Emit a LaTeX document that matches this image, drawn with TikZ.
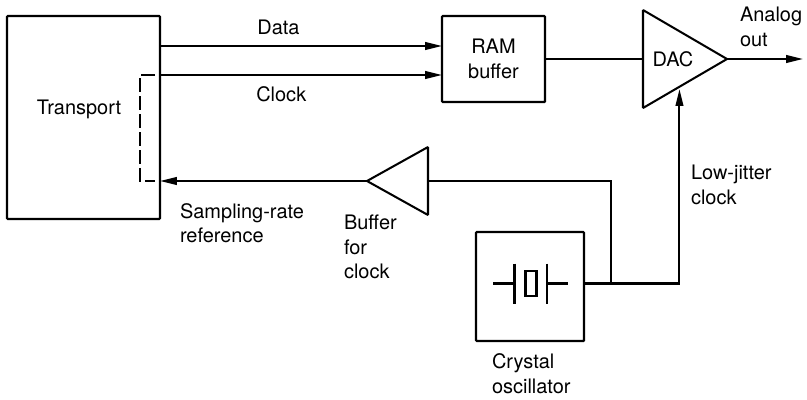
\documentclass[tikz,border=0pt]{standalone}
\usepackage{fontspec}
\setmainfont{TeX Gyre Heros}
\usetikzlibrary{positioning,arrows.meta,shapes.geometric,calc}

\begin{document}
\begin{tikzpicture}[
    font=\fontsize{14.2}{17.5}\selectfont,
    line width=1.45pt,
    box/.style={draw, rounded corners=0.5pt, align=center, inner sep=0pt, outer sep=0pt},
    transportbox/.style={box, minimum width=38.25mm, minimum height=50.75mm},
    rambox/.style={box, minimum width=25.75mm, minimum height=21.5mm},
    oscbox/.style={box, minimum width=27mm, minimum height=27.25mm},
    crystal/.style={draw, minimum width=2.75mm, minimum height=6.25mm, inner sep=0pt},
    amp/.style={draw, isosceles triangle, isosceles triangle stretches, inner sep=0pt,
                outer sep=0pt, rounded corners=0.5pt},
    lbl/.style={align=left, inner sep=0pt, anchor=west},
    arr/.style={-{Stealth[length=4.2mm, width=1.9mm, inset=0pt]}},
    refpath/.style={dash pattern=on 3.5mm off 1mm}
  ]
  \useasboundingbox (0,0) rectangle (201.75mm,-99.75mm);

  % ---- main blocks ----
  \node[transportbox, anchor=north west] (transport) at (1.75mm,-4mm) {};
  \node[anchor=center] (transportlbl) at ($(transport.center)+(-1.125mm,2.125mm)$) {Transport};
  \node[rambox, below right=0mm and 70.5mm of transport.north east] (ram) {RAM \\ buffer};
  \node[amp, minimum width=24.5mm, minimum height=21mm, right=24.5mm of ram] (dac) {};
  \node (daclbl) at ($(dac.west)+(7.5mm,0)$) {DAC};
  \coordinate (outend) at ($(dac.apex)+(19mm,0)$);
  \draw (ram.east) -- (dac.west);
  \draw[arr] (dac.apex) -- (outend);
  \node[lbl] (outlbl) at ($(dac.apex)+(3mm,8.1mm)$) {Analog \\ out};

  % ---- data and clock lines ----
  \coordinate (dataT) at ($(transport.north east)+(0,-7.5mm)$);
  \coordinate (clockT) at ($(transport.north east)+(0,-14.75mm)$);
  \draw[arr] (dataT) -- (dataT -| ram.west);
  \draw[arr] (clockT) -- (clockT -| ram.west);
  \node (datalbl) at ($(dataT)!0.42!(dataT -| ram.west)+(0,4.75mm)$) {Data};
  \node (clocklbl) at ($(clockT)!0.43!(clockT -| ram.west)+(0,-4.75mm)$) {Clock};

  % ---- crystal oscillator ----
  \node[oscbox, below right=54mm and 79mm of transport.north east] (osc) {};
  \node[crystal] (xtal) at ($(osc.center)+(0.25mm,0.75mm)$) {};
  \draw ($(xtal.west)+(-2.5mm,5mm)$) -- ($(xtal.west)+(-2.5mm,-5mm)$);
  \draw ($(xtal.east)+(2.25mm,5mm)$) -- ($(xtal.east)+(2.25mm,-5mm)$);
  \draw ($(xtal.west)+(-2.5mm,0)$) -- ++(-5.25mm,0);
  \draw ($(xtal.east)+(2.25mm,0)$) -- ++(5.25mm,0);
  \node[lbl, below=3mm of osc.south west, xshift=3.75mm, anchor=north west] (osclbl) {Crystal \\ oscillator};

  % ---- clock to the DAC ----
  \coordinate (jit) at ($(dac.right corner)!0.434!(dac.apex)$);
  \coordinate (oscout) at (osc.east |- xtal.center);
  \coordinate (tap) at ($(oscout)+(6.75mm,0)$);
  \draw[arr] (oscout) -| ($(jit)+(0,-0.6mm)$);
  \node[lbl] (jitlbl) at ($(oscout)+(26.5mm,24.6mm)$) {Low-jitter \\ clock};

  % ---- buffer and reference back to the transport ----
  \node[amp, shape border rotate=180, minimum width=17mm, minimum height=15.25mm,
        anchor=apex] (buf) at ($(transport.east)+(51.75mm,-15.875mm)$) {};
  \draw (tap) |- (buf.lower side);
  \draw[arr] (buf.apex) -- (buf.apex -| transport.east);
  \node[lbl] (sampling) at ($(transport.east)+(4.75mm,-26.4mm)$) {Sampling-rate \\ reference};
  \node[lbl] (buflbl) at ($(buf.apex)+(-6mm,-16.5mm)$) {Buffer \\ for \\ clock};

  % ---- dashed reference path ----
  \draw[refpath] ($(clockT)+(-1.25mm,0)$) -- ($(clockT)+(-5mm,0)$) |- ($(buf.apex -| transport.east)+(-1.25mm,0)$);

\end{tikzpicture}
\end{document}
